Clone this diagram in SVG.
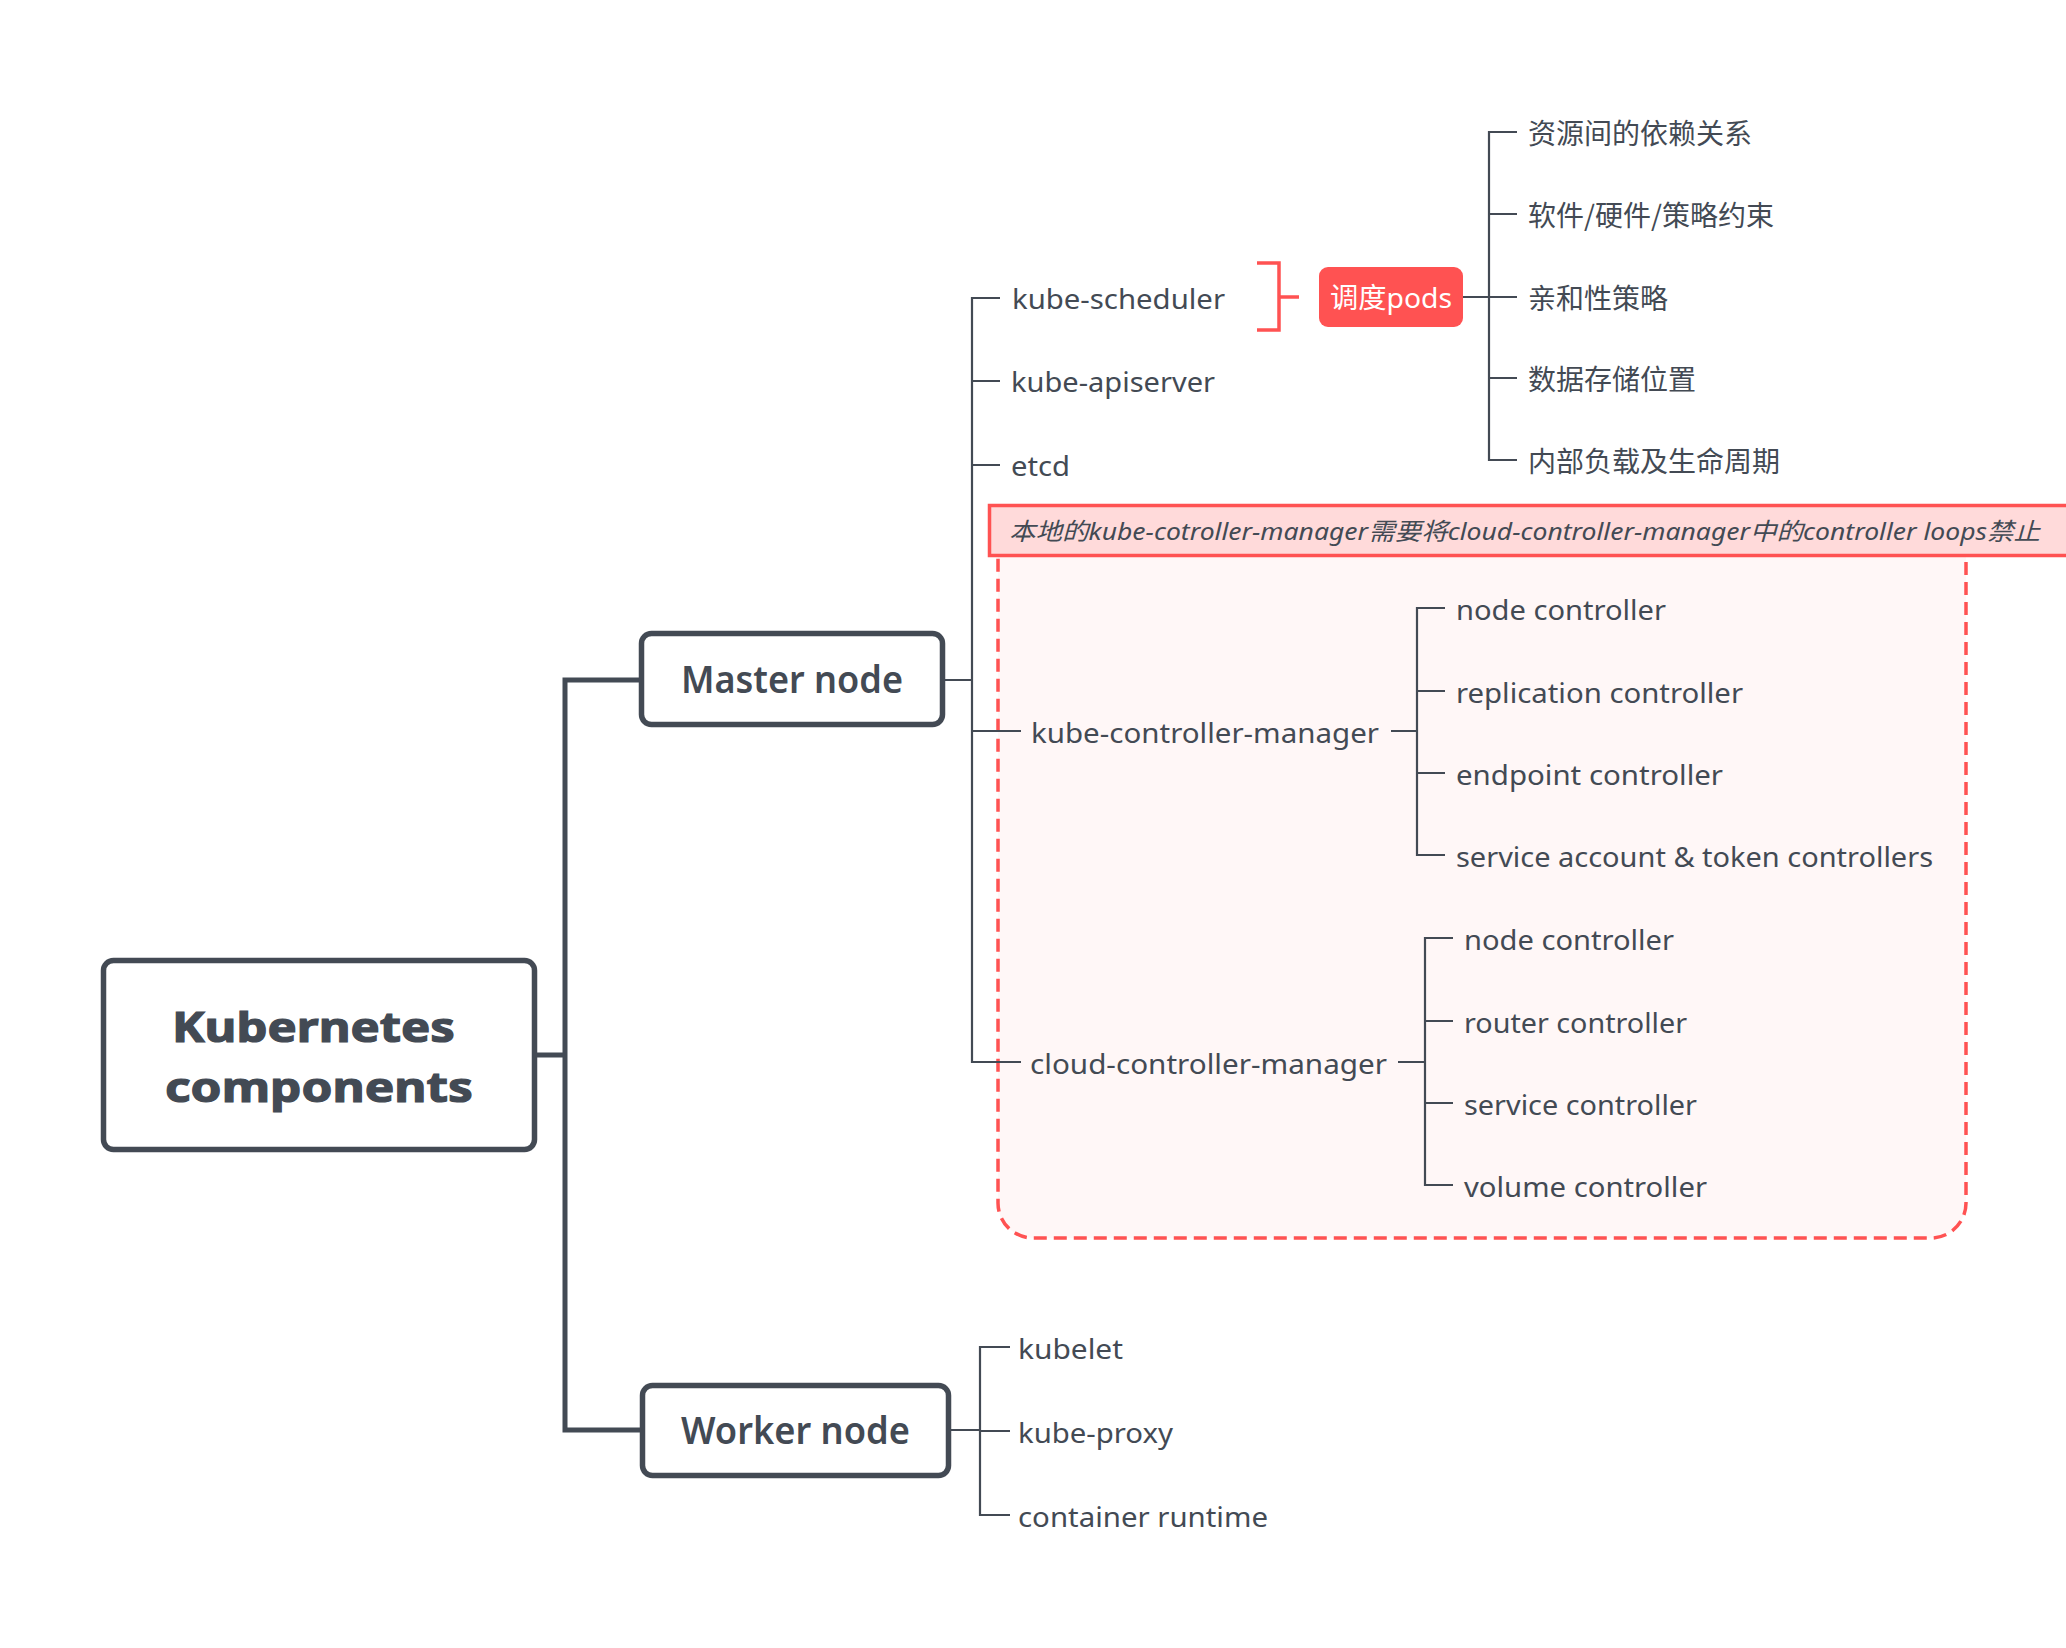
<svg xmlns="http://www.w3.org/2000/svg" width="2066" height="1648" viewBox="0 0 2066 1648">
<style>
.t{font-family:"Noto Sans","Noto Sans CJK SC",sans-serif;font-size:28px;fill:#434A54}
.cn{font-family:"Noto Sans CJK SC","Noto Sans",sans-serif;font-size:28px;fill:#434A54}
.box{fill:#fff;stroke:#434A54;stroke-width:5.5}
.thin{fill:none;stroke:#434A54;stroke-width:2.2;stroke-linejoin:miter}
.thick{fill:none;stroke:#434A54;stroke-width:5;stroke-linejoin:miter}
.red{fill:none;stroke:#FF5252;stroke-width:3.5}
.bt{font-family:"Noto Sans",sans-serif;font-weight:bold;font-size:42px;fill:#434A54;stroke:#434A54;stroke-width:1.2}
.mt{font-family:"Noto Sans",sans-serif;font-weight:600;font-size:37px;fill:#434A54}
</style>
<rect width="2066" height="1648" fill="#fff"/>
<g id="region">
<rect x="998" y="520" width="968" height="718" rx="35" fill="#FFF7F7" stroke="#FF5252" stroke-width="3.5" stroke-dasharray="13 7"/>
<rect x="989.5" y="505.5" width="1080" height="50" fill="#FFDADA" stroke="#FF5252" stroke-width="3.5"/>
<text x="1009" y="539.5" font-family="Noto Sans,Noto Sans CJK SC,sans-serif" font-style="italic" font-size="24" fill="#434A54" textLength="1031" lengthAdjust="spacingAndGlyphs">本地的kube-cotroller-manager需要将cloud-controller-manager中的controller loops禁止</text>
</g>
<g id="connectors">
<path class="thick" d="M639,680 H565 V1430 H640 M537,1055 H565"/>
<path class="thin" d="M1000,298 H972 V1062 H1021 M945,680 H972 M972,381 H1000 M972,465 H1000 M972,731 H1021"/>
<path class="thin" d="M1445,608 H1417 V855 H1445 M1391,731 H1417 M1417,691 H1445 M1417,773 H1445"/>
<path class="thin" d="M1453,938 H1425 V1185 H1453 M1398,1062 H1425 M1425,1021 H1453 M1425,1103 H1453"/>
<path class="thin" d="M1010,1347 H980 V1515 H1010 M951,1430 H980 M980,1431 H1010"/>
<path class="thin" d="M1517,132 H1489 V460 H1517 M1463,297 H1517 M1489,214 H1517 M1489,378 H1517"/>
<path class="red" d="M1257,263 H1279 V330 H1257 M1279,297 H1299"/>
</g>
<g id="root">
<rect class="box" x="103.5" y="960.5" width="431" height="189" rx="10"/>
<text class="bt" x="172" y="1042" textLength="283" lengthAdjust="spacingAndGlyphs">Kubernetes</text>
<text class="bt" x="165" y="1102" textLength="308" lengthAdjust="spacingAndGlyphs">components</text>
</g>
<g id="master">
<rect class="box" x="641.5" y="633.5" width="301" height="91" rx="10"/>
<text class="mt" x="681" y="693" textLength="222" lengthAdjust="spacingAndGlyphs">Master node</text>
</g>
<g id="worker">
<rect class="box" x="642.5" y="1385.5" width="306" height="90" rx="10"/>
<text class="mt" x="681" y="1444" textLength="229" lengthAdjust="spacingAndGlyphs">Worker node</text>
</g>
<g id="kube-scheduler"><text class="t" x="1012" y="308.5" textLength="213" lengthAdjust="spacingAndGlyphs">kube-scheduler</text></g>
<g id="kube-apiserver"><text class="t" x="1011" y="391.5" textLength="204" lengthAdjust="spacingAndGlyphs">kube-apiserver</text></g>
<g id="etcd"><text class="t" x="1011" y="475.5" textLength="59" lengthAdjust="spacingAndGlyphs">etcd</text></g>
<g id="kcm"><text class="t" x="1031" y="742.5" textLength="348" lengthAdjust="spacingAndGlyphs">kube-controller-manager</text></g>
<g id="ccm"><text class="t" x="1030" y="1073.5" textLength="357" lengthAdjust="spacingAndGlyphs">cloud-controller-manager</text></g>
<g id="pods">
<rect x="1319" y="267" width="144" height="60" rx="9" fill="#FF5252"/>
<text x="1330" y="308" font-family="Noto Sans,Noto Sans CJK SC,sans-serif" font-size="28" fill="#fff" textLength="122" lengthAdjust="spacingAndGlyphs">调度pods</text>
</g>
<g id="sched-items">
<text class="cn" x="1528" y="143.5">资源间的依赖关系</text>
<text class="cn" x="1528" y="225.5">软件/硬件/策略约束</text>
<text class="cn" x="1528" y="308.5">亲和性策略</text>
<text class="cn" x="1528" y="389.5">数据存储位置</text>
<text class="cn" x="1528" y="471.5">内部负载及生命周期</text>
</g>
<g id="kcm-items">
<text class="t" x="1456" y="619.5" textLength="210" lengthAdjust="spacingAndGlyphs">node controller</text>
<text class="t" x="1456" y="702.5" textLength="287" lengthAdjust="spacingAndGlyphs">replication controller</text>
<text class="t" x="1456" y="784.5" textLength="267" lengthAdjust="spacingAndGlyphs">endpoint controller</text>
<text class="t" x="1456" y="866.5" textLength="477" lengthAdjust="spacingAndGlyphs">service account &amp; token controllers</text>
</g>
<g id="ccm-items">
<text class="t" x="1464" y="949.5" textLength="210" lengthAdjust="spacingAndGlyphs">node controller</text>
<text class="t" x="1464" y="1032.5" textLength="223" lengthAdjust="spacingAndGlyphs">router controller</text>
<text class="t" x="1464" y="1114.5" textLength="233" lengthAdjust="spacingAndGlyphs">service controller</text>
<text class="t" x="1464" y="1196.5" textLength="243" lengthAdjust="spacingAndGlyphs">volume controller</text>
</g>
<g id="worker-items">
<text class="t" x="1018" y="1358.5" textLength="105" lengthAdjust="spacingAndGlyphs">kubelet</text>
<text class="t" x="1018" y="1442.5" textLength="155" lengthAdjust="spacingAndGlyphs">kube-proxy</text>
<text class="t" x="1018" y="1526.5" textLength="250" lengthAdjust="spacingAndGlyphs">container runtime</text>
</g>
</svg>
